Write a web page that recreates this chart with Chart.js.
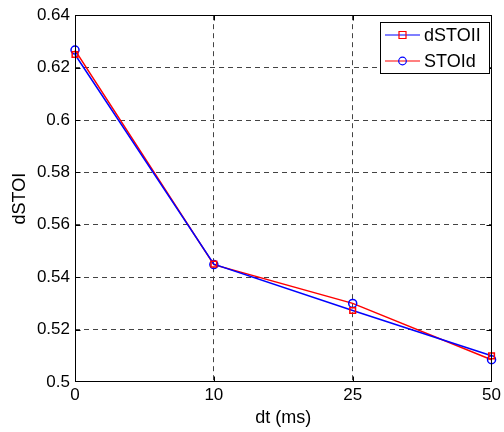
<!DOCTYPE html>
<html><head><meta charset="utf-8">
<script src="https://cdn.jsdelivr.net/npm/chart.js@4/dist/chart.umd.min.js"></script>
<style>html,body{margin:0;padding:0;background:#fff}#w{width:504px;height:432px}</style>
</head><body><div id="w"><canvas id="c" width="504" height="432"></canvas></div>
<script>
const categories = ['0', '10', '25', '50'];
const dSTOII = [0.625, 0.545, 0.5273, 0.510];
const STOId = [0.6267, 0.5448, 0.530, 0.5085];
const yTicks = [0.5, 0.52, 0.54, 0.56, 0.58, 0.6, 0.62, 0.64];
const FONT = 'Liberation Sans, Arial, sans-serif';

const frame = {
  id: 'frame',
  afterDraw(chart) {
    const ctx = chart.ctx, a = chart.chartArea;
    ctx.save();
    ctx.strokeStyle = '#000'; ctx.lineWidth = 1;
    const L = Math.round(a.left) + 0.5, R = Math.round(a.right) - 0.5;
    const T = Math.round(a.top) + 0.5, B = Math.round(a.bottom) - 0.5;
    ctx.strokeRect(L, T, R - L, B - T);
    const xs = chart.scales.x, ys = chart.scales.y;
    ctx.beginPath();
    for (let i = 1; i < categories.length - 1; i++) {
      const x = Math.round(xs.getPixelForValue(i)) + 0.5;
      ctx.moveTo(x, B); ctx.lineTo(x, B - 5);
      ctx.moveTo(x, T); ctx.lineTo(x, T + 5);
    }
    for (let i = 1; i < yTicks.length - 1; i++) {
      const y = Math.round(ys.getPixelForValue(yTicks[i])) + 0.5;
      ctx.moveTo(L, y); ctx.lineTo(L + 5, y);
      ctx.moveTo(R, y); ctx.lineTo(R - 5, y);
    }
    ctx.stroke();
    const lw = 109, lh = 51, lx = Math.round(R) - 3 - lw, ly = Math.round(T) + 6;
    ctx.fillStyle = '#fff';
    ctx.fillRect(lx, ly, lw, lh);
    ctx.strokeRect(lx + 0.5, ly + 0.5, lw, lh);
    ctx.font = '18px ' + FONT;
    ctx.textBaseline = 'middle';
    chart.data.datasets.forEach((ds, i) => {
      const y = ly + 13 + i * 26;
      ctx.strokeStyle = ds.borderColor; ctx.lineWidth = 1.2;
      ctx.beginPath(); ctx.moveTo(lx + 5, y); ctx.lineTo(lx + 40, y); ctx.stroke();
      ctx.strokeStyle = ds.pointBorderColor; ctx.lineWidth = 1.2;
      ctx.beginPath();
      if (ds.pointStyle === 'rect') ctx.rect(lx + 19, y - 3.5, 7, 7);
      else ctx.arc(lx + 22.5, y, 3.8, 0, Math.PI * 2);
      ctx.stroke();
      ctx.fillStyle = '#000';
      ctx.fillText(ds.label, lx + 44, y + 1);
    });
    ctx.restore();
  }
};

const edgeX = c => (c.index === 0 || c.index === categories.length - 1) ? 'rgba(0,0,0,0)' : '#444';
const edgeY = c => (c.index === 0 || c.index === yTicks.length - 1) ? 'rgba(0,0,0,0)' : '#444';

new Chart(document.getElementById('c'), {
  type: 'line',
  data: {
    labels: categories,
    datasets: [
      { label: 'dSTOII', data: dSTOII, borderColor: '#0000ff', borderWidth: 1.5,
        pointStyle: 'rect', pointRadius: 4, pointBorderColor: '#ff0000', pointBackgroundColor: 'rgba(0,0,0,0)', pointBorderWidth: 1.5, tension: 0 },
      { label: 'STOId', data: STOId, borderColor: '#ff0000', borderWidth: 1.5,
        pointStyle: 'circle', pointRadius: 4, pointBorderColor: '#0000ff', pointBackgroundColor: 'rgba(0,0,0,0)', pointBorderWidth: 1.5, tension: 0 }
    ]
  },
  options: {
    responsive: false, animation: false, clip: false,
    layout: { padding: { top: 12, right: 9, left: 0, bottom: 0 } },
    plugins: { legend: { display: false }, tooltip: { enabled: false } },
    scales: {
      x: {
        type: 'category', offset: false,
        grid: { color: edgeX, lineWidth: 1, drawTicks: false },
        border: { display: false, dash: [5, 4] },
        ticks: { color: '#000', font: { family: FONT, size: 17 }, padding: 3, maxRotation: 0, autoSkip: false },
        title: { display: true, text: 'dt (ms)', color: '#000', font: { family: FONT, size: 18 }, padding: { top: 0, bottom: 3 } },
        afterFit(s) { s.height = 50; }
      },
      y: {
        min: 0.5, max: 0.64,
        afterBuildTicks(s) { s.ticks = yTicks.map(v => ({ value: v })); },
        grid: { color: edgeY, lineWidth: 1, drawTicks: false },
        border: { display: false, dash: [5, 4] },
        ticks: { color: '#000', font: { family: FONT, size: 17 }, padding: 5,
          callback: v => String(+v.toFixed(2)) },
        title: { display: true, text: 'dSTOI', color: '#000', font: { family: FONT, size: 18 }, padding: { top: 9, bottom: 0 } },
        afterFit(s) { s.width = 75; }
      }
    }
  },
  plugins: [frame]
});
</script></body></html>
